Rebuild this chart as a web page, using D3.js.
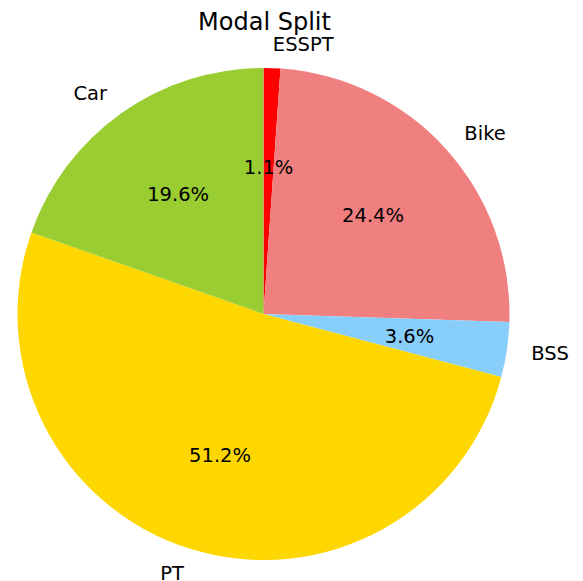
<!DOCTYPE html>
<html>
<head>
<meta charset="utf-8">
<script src="https://cdn.jsdelivr.net/npm/d3@7"></script>
<style>
  body { margin: 0; background: #fff; }
  svg text { font-family: "DejaVu Sans", sans-serif; fill: #000; }
</style>
</head>
<body>
<div id="viz-container"></div>
<script>
// chart data
var labels = ["ESSPT", "Bike", "BSS", "PT", "Car"];
var values = [1.1, 24.4, 3.6, 51.2, 19.6];
var colors = ["#ff0000", "#f08080", "#87cefa", "#ffd700", "#9acd32"];
var title = "Modal Split";

var width = 583, height = 581;
var cx = 263.5, cy = 314, radius = 246;

var svg = d3.select('#viz-container')
    .append('svg')
      .attr('width', width)
      .attr('height', height);

// title
svg.append('text')
    .attr('x', cx + 1)
    .attr('y', 30)
    .attr('text-anchor', 'middle')
    .style('font-size', '24px')
    .text(title);

var data = labels.map(function(l, i) {
  return { label: l, value: values[i], color: colors[i] };
});

// d3 angles start at 12 o'clock and go clockwise, same as startangle=90, counterclock=False
var pie = d3.pie()
    .sort(null)
    .value(function(d) { return d.value; });

var arcs = pie(data);

var arc = d3.arc().innerRadius(0).outerRadius(radius);

var g = svg.append('g')
    .attr('transform', 'translate(' + cx + ',' + cy + ')');

g.selectAll('path.slice')
  .data(arcs)
  .enter()
    .append('path')
    .attr('class', 'slice')
    .attr('d', arc)
    .attr('fill', function(d) { return d.data.color; });

function mid(d) { return (d.startAngle + d.endAngle) / 2; }

// percentage labels at 0.6 r
g.selectAll('text.pct')
  .data(arcs)
  .enter()
    .append('text')
    .attr('class', 'pct')
    .attr('x', function(d) { return 0.6 * radius * Math.sin(mid(d)); })
    .attr('y', function(d) { return -0.6 * radius * Math.cos(mid(d)); })
    .attr('dy', '0.36em')
    .attr('text-anchor', 'middle')
    .style('font-size', '19.5px')
    .text(function(d) { return d.data.value.toFixed(1) + '%'; });

// category labels at 1.1 r
g.selectAll('text.lab')
  .data(arcs)
  .enter()
    .append('text')
    .attr('class', 'lab')
    .attr('x', function(d) { return 1.1 * radius * Math.sin(mid(d)); })
    .attr('y', function(d) { return -1.1 * radius * Math.cos(mid(d)); })
    .attr('dy', '0.36em')
    .attr('text-anchor', function(d) { return Math.sin(mid(d)) > 0 ? 'start' : 'end'; })
    .style('font-size', '19.5px')
    .text(function(d) { return d.data.label; });
</script>
</body>
</html>
